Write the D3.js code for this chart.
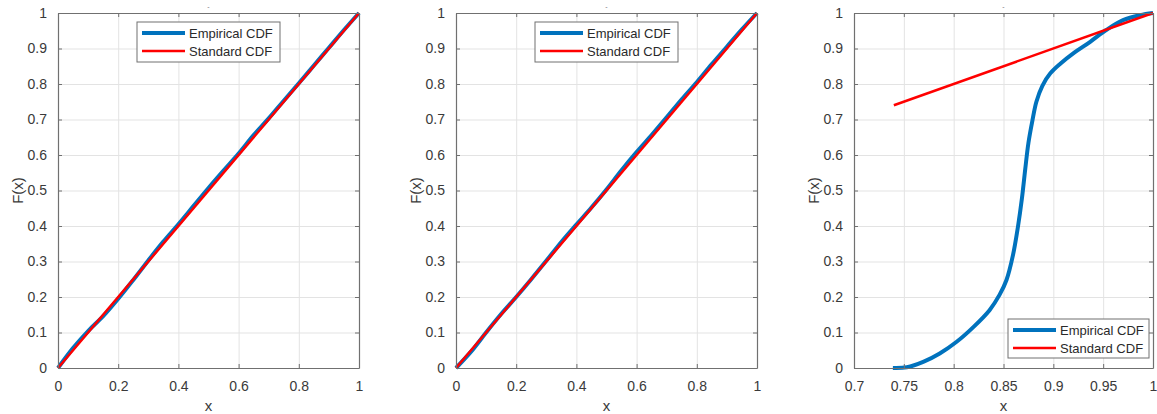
<!DOCTYPE html>
<html><head><meta charset="utf-8">
<script src="https://cdn.jsdelivr.net/npm/d3@7"></script>
<style>body{margin:0;background:#fff;} svg{display:block;font-family:Arial,"Liberation Sans",Helvetica,sans-serif;}</style>
</head><body>
<svg id="c" width="1157" height="414"></svg>
<script>
// Panel 1 data
const p1X = [0, 0.05, 0.1, 0.15, 0.2, 0.25, 0.3, 0.35, 0.4, 0.45, 0.5, 0.55, 0.6, 0.65, 0.7, 0.75, 0.8, 0.85, 0.9, 0.95, 1];
const p1Emp = [0, 0.056, 0.104, 0.146, 0.195, 0.248, 0.303, 0.356, 0.405, 0.456, 0.507, 0.556, 0.604, 0.656, 0.703, 0.753, 0.802, 0.852, 0.902, 0.952, 1];
// Panel 2 data
const p2X = [0, 0.05, 0.1, 0.15, 0.2, 0.25, 0.3, 0.35, 0.4, 0.45, 0.5, 0.55, 0.6, 0.65, 0.7, 0.75, 0.8, 0.85, 0.9, 0.95, 1];
const p2Emp = [0, 0.046, 0.1, 0.152, 0.2, 0.25, 0.302, 0.355, 0.404, 0.452, 0.503, 0.557, 0.608, 0.656, 0.706, 0.757, 0.805, 0.856, 0.905, 0.954, 1];
// Panel 3 data
const p3X = [0.739, 0.753, 0.77, 0.786, 0.803, 0.82, 0.836, 0.846, 0.853, 0.8595, 0.8645, 0.8685, 0.8718, 0.875, 0.879, 0.883, 0.889, 0.897, 0.907, 0.92, 0.937, 0.953, 0.97, 0.987, 1.0];
const p3Emp = [0, 0.002, 0.018, 0.041, 0.074, 0.116, 0.163, 0.206, 0.248, 0.318, 0.398, 0.478, 0.56, 0.634, 0.697, 0.75, 0.795, 0.83, 0.857, 0.886, 0.919, 0.952, 0.98, 0.994, 1.0];
const p3Std = [[0.74, 0.74], [1, 1]];

const xTicks01 = [0, 0.2, 0.4, 0.6, 0.8, 1];
const xTicks3 = [0.7, 0.75, 0.8, 0.85, 0.9, 0.95, 1];
const yTicks = [0, 0.1, 0.2, 0.3, 0.4, 0.5, 0.6, 0.7, 0.8, 0.9, 1];
const legendLabels = ["Empirical CDF", "Standard CDF"];
const seriesColors = ["#0072BD", "#FF0000"];

const svg = d3.select("#c");
const plotTop = 13, plotBottom = 368;

const panels = [
  {left: 58, right: 359, xd: [0, 1], xt: xTicks01, emp: p1X.map((x, i) => [x, p1Emp[i]]), std: [[0, 0], [1, 1]], legend: {x: 137, y: 22, w: 143, h: 40}},
  {left: 456, right: 757, xd: [0, 1], xt: xTicks01, emp: p2X.map((x, i) => [x, p2Emp[i]]), std: [[0, 0], [1, 1]], legend: {x: 535, y: 22, w: 143, h: 40}},
  {left: 854, right: 1153, xd: [0.7, 1], xt: xTicks3, emp: p3X.map((x, i) => [x, p3Emp[i]]), std: p3Std, legend: {x: 1008, y: 319, w: 141, h: 39}}
];

const fmt = d => (d === 0 || d === 1) ? String(d) : String(+d.toFixed(2));

panels.forEach(p => {
  const x = d3.scaleLinear().domain(p.xd).range([p.left, p.right]);
  const y = d3.scaleLinear().domain([0, 1]).range([plotBottom, plotTop]);
  const g = svg.append("g");
  // grid
  g.append("g").attr("transform", `translate(0,${plotBottom})`)
    .call(d3.axisBottom(x).tickValues(p.xt).tickSize(-(plotBottom - plotTop)).tickFormat(""))
    .call(a => a.select(".domain").remove())
    .selectAll("line").attr("stroke", "#e3e3e3").attr("stroke-width", 1);
  g.append("g").attr("transform", `translate(${p.left},0)`)
    .call(d3.axisLeft(y).tickValues(yTicks).tickSize(-(p.right - p.left)).tickFormat(""))
    .call(a => a.select(".domain").remove())
    .selectAll("line").attr("stroke", "#e3e3e3").attr("stroke-width", 1);

  // lines
  const line = d3.line().x(d => x(d[0])).y(d => y(d[1])).curve(d3.curveCatmullRom.alpha(0.5));
  g.append("path").datum(p.emp).attr("d", line).attr("fill", "none")
    .attr("stroke", seriesColors[0]).attr("stroke-width", 4).attr("stroke-linejoin", "round");
  g.append("path").datum(p.std).attr("d", d3.line().x(d => x(d[0])).y(d => y(d[1])))
    .attr("fill", "none").attr("stroke", seriesColors[1]).attr("stroke-width", 2.5);

  // axes (inward ticks, all sides)
  const axCol = "#707070";
  const bx = g.append("g").attr("transform", `translate(0,${plotBottom})`)
    .call(d3.axisBottom(x).tickValues(p.xt).tickSizeInner(-4).tickSizeOuter(0).tickPadding(13).tickFormat(fmt));
  const tx = g.append("g").attr("transform", `translate(0,${plotTop})`)
    .call(d3.axisTop(x).tickValues(p.xt).tickSizeInner(-4).tickSizeOuter(0).tickFormat(""));
  const ly = g.append("g").attr("transform", `translate(${p.left},0)`)
    .call(d3.axisLeft(y).tickValues(yTicks).tickSizeInner(-4).tickSizeOuter(0).tickPadding(11).tickFormat(fmt));
  const ry = g.append("g").attr("transform", `translate(${p.right},0)`)
    .call(d3.axisRight(y).tickValues(yTicks).tickSizeInner(-4).tickSizeOuter(0).tickFormat(""));
  [bx, tx, ly, ry].forEach(a => {
    a.select(".domain").attr("stroke", axCol).attr("stroke-width", 1.2);
    a.selectAll(".tick line").attr("stroke", axCol);
    a.selectAll("text").attr("fill", "#3a3a3a").attr("font-size", 14).attr("font-family", "Arial, 'Liberation Sans', sans-serif");
  });

  // labels
  g.append("text").attr("x", (p.left + p.right) / 2).attr("y", 411).attr("text-anchor", "middle")
    .attr("font-size", 15).attr("fill", "#3a3a3a").text("x");
  g.append("text").attr("transform", `translate(${p.left - 35},${(plotTop + plotBottom) / 2}) rotate(-90)`)
    .attr("text-anchor", "middle").attr("font-size", 15).attr("fill", "#3a3a3a").text("F(x)");
  // tiny title artifact
  g.append("text").attr("x", (p.left + p.right) / 2).attr("y", 9).attr("text-anchor", "middle")
    .attr("font-size", 7).attr("fill", "#777").text("-");

  // legend
  const L = p.legend;
  const lg = g.append("g");
  lg.append("rect").attr("x", L.x).attr("y", L.y).attr("width", L.w).attr("height", L.h)
    .attr("fill", "#fff").attr("stroke", "#707070").attr("stroke-width", 1);
  legendLabels.forEach((lab, i) => {
    const yy = L.y + 11 + i * 18;
    lg.append("line").attr("x1", L.x + 5).attr("x2", L.x + 48).attr("y1", yy).attr("y2", yy)
      .attr("stroke", seriesColors[i]).attr("stroke-width", i === 0 ? 4 : 2.5);
    lg.append("text").attr("x", L.x + 52).attr("y", yy + 4.5).attr("font-size", 13)
      .attr("fill", "#2a2a2a").text(lab);
  });
});
</script>
</body></html>
